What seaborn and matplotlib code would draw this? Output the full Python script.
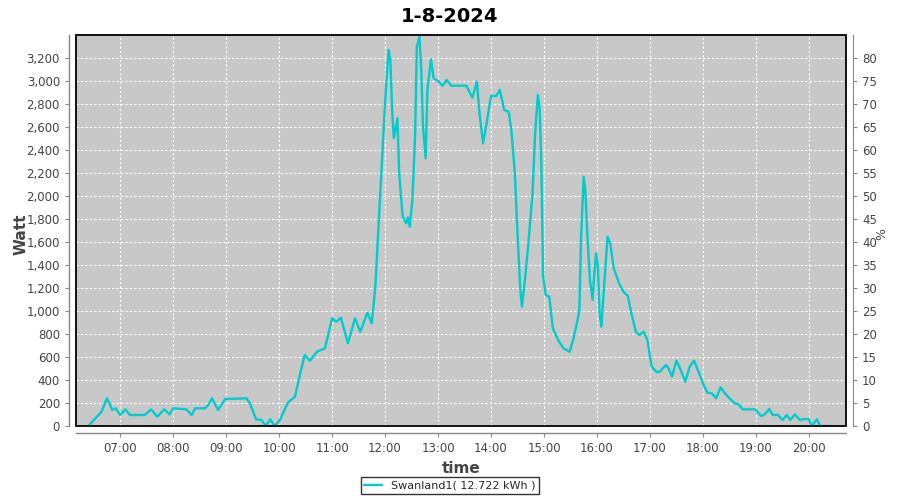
import pandas as pd
import matplotlib
matplotlib.use("Agg")
import matplotlib.pyplot as plt
import matplotlib.dates as mdates
from matplotlib.patches import Rectangle
import seaborn as sns

# ------------------------------------------
# Data
# ------------------------------------------
title = "1-8-2024"
series_name = "Swanland1( 12.722 kWh )"

times = [
    "06:24", "06:39", "06:45", "06:48", "06:51", "06:55", "07:00", "07:06", "07:11", "07:28",
    "07:35", "07:42", "07:50", "07:56", "08:00", "08:15", "08:21", "08:25", "08:36", "08:40",
    "08:44", "08:51", "08:59", "09:23", "09:27", "09:34", "09:40", "09:45", "09:50", "09:55",
    "10:01", "10:10", "10:18", "10:24", "10:29", "10:35", "10:43", "10:52", "11:00", "11:05",
    "11:10", "11:18", "11:26", "11:32", "11:40", "11:45", "11:49", "11:54", "12:00", "12:04",
    "12:06", "12:08", "12:10", "12:14", "12:16", "12:20", "12:24", "12:26", "12:28", "12:31",
    "12:34", "12:36", "12:39", "12:41", "12:43", "12:46", "12:48", "12:52", "12:55", "13:00",
    "13:05", "13:10", "13:15", "13:32", "13:39", "13:44", "13:47", "13:51", "13:55", "14:00",
    "14:06", "14:10", "14:15", "14:20", "14:23", "14:27", "14:30", "14:33", "14:35", "14:38",
    "14:42", "14:47", "14:50", "14:53", "14:55", "14:57", "14:59", "15:02", "15:06", "15:10",
    "15:16", "15:22", "15:29", "15:33", "15:38", "15:40", "15:42", "15:45", "15:47", "15:49",
    "15:52", "15:55", "15:57", "15:59", "16:01", "16:03", "16:05", "16:08", "16:12", "16:15",
    "16:19", "16:25", "16:30", "16:35", "16:39", "16:44", "16:48", "16:53", "16:57", "17:02",
    "17:08", "17:11", "17:18", "17:21", "17:25", "17:30", "17:34", "17:40", "17:45", "17:50",
    "17:55", "18:00", "18:05", "18:10", "18:15", "18:20", "18:25", "18:30", "18:36", "18:40",
    "18:45", "18:59", "19:06", "19:10", "19:15", "19:19", "19:25", "19:30", "19:35", "19:39",
    "19:44", "19:50", "19:55", "20:00", "20:03", "20:09", "20:13", "20:26",
]

watts = [
    0, 124, 241, 197, 139, 154, 96, 145, 96, 96,
    145, 81, 145, 101, 154, 145, 96, 154, 154, 183,
    241, 139, 235, 241, 197, 58, 52, 0, 58, 0,
    52, 204, 255, 458, 617, 568, 646, 676, 937, 907,
    942, 719, 937, 820, 985, 893, 1211, 1937, 2806, 3270,
    3183, 2748, 2502, 2676, 2198, 1820, 1763, 1815, 1733, 1965,
    2516, 3298, 3385, 3096, 2603, 2328, 2922, 3189, 3024, 3000,
    2959, 3009, 2959, 2959, 2855, 2994, 2719, 2458, 2632, 2870,
    2870, 2922, 2748, 2733, 2574, 2198, 1676, 1211, 1037, 1241,
    1559, 2023, 2545, 2878, 2777, 2284, 1298, 1139, 1124, 850,
    748, 676, 646, 748, 922, 1000, 1650, 2168, 2023, 1676,
    1270, 1096, 1328, 1502, 1385, 980, 864, 1211, 1646, 1589,
    1371, 1241, 1168, 1130, 980, 820, 791, 820, 748, 516,
    467, 472, 530, 502, 429, 568, 502, 385, 516, 568,
    472, 371, 290, 284, 241, 336, 284, 241, 197, 191,
    145, 145, 87, 101, 148, 96, 96, 52, 96, 52,
    101, 52, 61, 58, 0, 58, 0, 0,
]

day = "2024-08-01"
df = pd.DataFrame({"time": pd.to_datetime([day + " " + t for t in times]), "watt": watts})

# ------------------------------------------
# Plot
# ------------------------------------------
sns.set_style("white")
plt.rcParams["font.family"] = ["DejaVu Sans"]

fig = plt.figure(figsize=(9, 5), dpi=100)
ax = fig.add_axes([0.0844, 0.148, 0.8556, 0.782])
ax.set_facecolor("#c8c8c8")

sns.lineplot(data=df, x="time", y="watt", ax=ax, color="#00cccc", linewidth=1.7,
             label=series_name, legend=False)

ax.set_xlim(pd.Timestamp(day + " 06:10"), pd.Timestamp(day + " 20:42"))
ax.set_ylim(0, 3400)
ax.set_yticks(range(0, 3201, 200))
ax.yaxis.set_major_formatter(matplotlib.ticker.FuncFormatter(lambda v, p: f"{int(v):,}"))
ax.xaxis.set_major_locator(mdates.HourLocator(byhour=range(7, 21)))
ax.xaxis.set_major_formatter(mdates.DateFormatter("%H:%M"))

ax.grid(True, color="white", linestyle=(0, (2, 2)), linewidth=0.8)
ax.set_axisbelow(True)

# plot border in black, axis lines offset in gray
ax.add_patch(Rectangle((0, 0), 1, 1, transform=ax.transAxes, fill=False,
                       edgecolor="black", linewidth=1.3, clip_on=False, zorder=5))
axis_gray = "#888888"
for side in ["top", "right"]:
    ax.spines[side].set_visible(False)
for side in ["left", "bottom"]:
    ax.spines[side].set_visible(True)
    ax.spines[side].set_color(axis_gray)
    ax.spines[side].set_linewidth(1)
    ax.spines[side].set_position(("outward", 5))

gray = "#444444"
ax.tick_params(axis="both", labelsize=8.5, colors=axis_gray, labelcolor=gray,
               length=3, direction="out", left=True, bottom=True)
ax.set_xlabel("time", fontsize=11, fontweight="bold", color=gray, labelpad=4)
ax.set_ylabel("Watt", fontsize=11, fontweight="bold", color=gray)
ax.yaxis.set_label_coords(-0.061, 0.49)
fig.suptitle(title, x=0.5, y=0.985, fontsize=14, fontweight="bold", color="black")

# right axis in percent
ax2 = ax.twinx()
ax2.set_ylim(0, 85)
ax2.set_yticks(range(0, 81, 5))
ax2.tick_params(axis="y", labelsize=8.5, colors=axis_gray, labelcolor=gray, length=3, right=True)
ax2.set_ylabel("%", fontsize=9, color=gray)
ax2.yaxis.set_label_coords(1.038, 0.49)
for side in ["top", "left", "bottom"]:
    ax2.spines[side].set_visible(False)
ax2.spines["right"].set_color(axis_gray)
ax2.spines["right"].set_position(("outward", 5))

handles, labels = ax.get_legend_handles_labels()
leg = fig.legend(handles, labels, loc="lower center", bbox_to_anchor=(0.5, 0.0),
                 fontsize=8, frameon=True, fancybox=False, edgecolor="black",
                 handlelength=1.6, borderpad=0.35)
leg.get_frame().set_linewidth(1)

fig.savefig("out.png", dpi=100, facecolor="white")
